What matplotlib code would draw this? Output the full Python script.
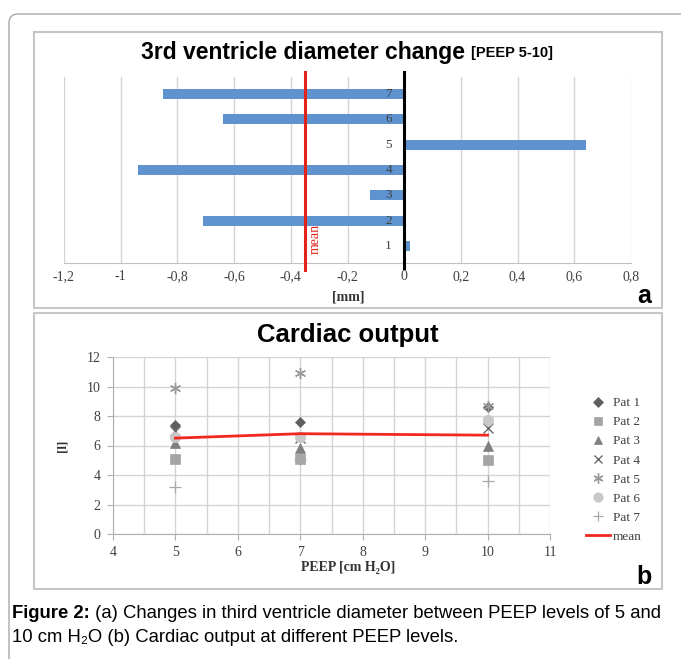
import matplotlib
matplotlib.use('Agg')
import matplotlib.pyplot as plt
import matplotlib.patches as patches
from matplotlib.ticker import FuncFormatter, MultipleLocator

# ============================================================
# Data
# ============================================================
patients = [1, 2, 3, 4, 5, 6, 7]
diam_change = [0.02, -0.71, -0.12, -0.94, 0.64, -0.64, -0.85]   # mm, PEEP 5 -> 10
diam_mean = -0.35

peep = [5, 7, 10]
co_pat = {
    'Pat 1': [7.4, 7.6, 8.6],
    'Pat 2': [5.1, 5.1, 5.0],
    'Pat 3': [6.2, 5.8, 6.0],
    'Pat 4': [7.0, 6.5, 7.2],
    'Pat 5': [9.9, 10.9, 8.7],
    'Pat 6': [6.6, 6.6, 7.7],
    'Pat 7': [3.2, 5.1, 3.6],
}
co_mean = [6.5, 6.8, 6.7]

W, H = 681, 659
fig = plt.figure(figsize=(W / 100, H / 100), dpi=100)

serif = ['Liberation Serif', 'DejaVu Serif']
sans = ['Liberation Sans', 'DejaVu Sans']
tick_col = '#404040'
grid_col = '#d4d4d4'


def px_axes(l, t, r, b):
    return fig.add_axes([l / W, 1 - b / H, (r - l) / W, (b - t) / H])


# background layer in pixel coordinates (frames, titles, caption)
bg = fig.add_axes([0, 0, 1, 1], zorder=-5)
bg.set_xlim(0, W)
bg.set_ylim(H, 0)
bg.axis('off')

outer = patches.FancyBboxPatch((9, 14), 700, 700, boxstyle="round,pad=0,rounding_size=9",
                               edgecolor='#a8a8a8', facecolor='none', linewidth=1.0)
bg.add_patch(outer)
for (x0, y0, x1, y1) in [(34, 32, 662, 308), (34, 313, 662, 589)]:
    bg.add_patch(patches.Rectangle((x0, y0), x1 - x0, y1 - y0, edgecolor='#c6c6c6',
                                   facecolor='white', linewidth=1.5))

# ============================================================
# Panel a: 3rd ventricle diameter change
# ============================================================
axa = px_axes(64, 77, 631, 263)
axa.barh(patients, diam_change, height=0.4, color='#5e93cf', zorder=2)
axa.set_xlim(-1.2, 0.8)
axa.set_ylim(0.33, 7.67)
axa.xaxis.set_major_locator(MultipleLocator(0.2))
axa.xaxis.set_major_formatter(FuncFormatter(lambda v, p: f"{round(v, 1):g}".replace('.', ',')))
axa.grid(axis='x', color=grid_col, linewidth=1.0, zorder=0)
axa.set_yticks([])
for s in ['top', 'left', 'right']:
    axa.spines[s].set_visible(False)
axa.spines['bottom'].set_color('#c0c0c0')
axa.tick_params(axis='x', length=0, pad=5, labelsize=10, labelcolor=tick_col)
for lab in axa.get_xticklabels():
    lab.set_family(serif)
axa.set_facecolor('none')

# zero line and mean line
axa.plot([0, 0], [0.12, 7.85], color='black', linewidth=2.2, zorder=4, clip_on=False)
axa.plot([diam_mean, diam_mean], [0.05, 7.85], color='#e32219', linewidth=2.2, zorder=3, clip_on=False)
axa.text(diam_mean + 0.037, 1.27, 'mean', rotation=90, color='#e32219', fontsize=10,
         family=serif, ha='center', va='center', zorder=5)
for p in patients:
    axa.text(-0.055, p, str(p), ha='center', va='center', fontsize=9.5, family=serif,
             color='#404040', zorder=5)

bg.text(303, 52, '3rd ventricle diameter change', ha='center', va='center',
        fontsize=16.5, fontweight='bold', family=sans)
bg.text(512, 53, '[PEEP 5-10]', ha='center', va='center',
        fontsize=10.5, fontweight='bold', family=sans)
bg.text(348, 297, '[mm]', ha='center', va='center', fontsize=10, fontweight='bold',
        family=serif, color='#333333')
bg.text(644, 296, 'a', ha='center', va='center', fontsize=18, fontweight='bold', family=sans)

# ============================================================
# Panel b: Cardiac output
# ============================================================
axb = px_axes(113, 357, 550, 534)
styles = {
    'Pat 1': dict(marker='D', color='#5f5f5f', ms=5.5),
    'Pat 2': dict(marker='s', color='#a5a5a5', ms=6.5),
    'Pat 3': dict(marker='^', color='#7f7f7f', ms=6.5),
    'Pat 4': dict(marker='x', color='#6a6a6a', ms=7, mew=1.0),
    'Pat 5': dict(marker=(6, 2, 0), color='#9a9a9a', ms=8, mew=1.0),
    'Pat 6': dict(marker='o', color='#c8c8c8', ms=7.5),
    'Pat 7': dict(marker='+', color='#a8a8a8', ms=8, mew=0.9),
}
handles = []
for name, vals in co_pat.items():
    st = styles[name]
    h, = axb.plot(peep, vals, linestyle='none', marker=st['marker'], color=st['color'],
                  markersize=st['ms'], markeredgewidth=st.get('mew', 0.5), zorder=3, label=name)
    handles.append(h)
hm, = axb.plot(peep, co_mean, color='#f0281e', linewidth=2.0, zorder=4, label='mean')
handles.append(hm)

axb.set_xlim(4, 11)
axb.set_ylim(0, 12)
axb.xaxis.set_major_locator(MultipleLocator(1))
axb.xaxis.set_minor_locator(MultipleLocator(0.5))
axb.yaxis.set_major_locator(MultipleLocator(2))
axb.grid(axis='x', which='both', color=grid_col, linewidth=1.0, zorder=0)
axb.grid(axis='y', which='major', color=grid_col, linewidth=1.0, zorder=0)
for s in ['top', 'right']:
    axb.spines[s].set_visible(False)
axb.spines['left'].set_color('#b0b0b0')
axb.spines['bottom'].set_color('#b0b0b0')
axb.tick_params(which='major', length=4, color='#b0b0b0', pad=5, labelsize=10, labelcolor=tick_col)
axb.tick_params(which='minor', length=0)
for lab in axb.get_xticklabels() + axb.get_yticklabels():
    lab.set_family(serif)
axb.set_facecolor('none')

leg = fig.legend(handles=handles, loc='upper left', bbox_to_anchor=(586 / W, 1 - 397 / H),
                 frameon=False, prop={'family': serif, 'size': 9.5}, labelspacing=0.52,
                 handlelength=1.8, handletextpad=0.25, borderpad=0, borderaxespad=0,
                 markerscale=0.9)
for t in leg.get_texts():
    t.set_color('#404040')

bg.text(348, 335, 'Cardiac output', ha='center', va='center', fontsize=18.5,
        fontweight='bold', family=sans)
bg.text(63, 446, '[l]', ha='center', va='center', rotation=90, fontsize=9.5,
        fontweight='bold', family=serif, color='#333333')
bg.text(348, 567, 'PEEP [cm H₂O]', ha='center', va='center', fontsize=10,
        fontweight='bold', family=serif, color='#333333')
bg.text(644, 577, 'b', ha='center', va='center', fontsize=18, fontweight='bold', family=sans)

# ============================================================
# Caption
# ============================================================
t1 = bg.text(12, 614, 'Figure 2:', ha='left', va='center', fontsize=13.3,
             fontweight='bold', family=sans)
bg.annotate(' (a) Changes in third ventricle diameter between PEEP levels of 5 and',
            xy=(1, 0.5), xycoords=t1, ha='left', va='center', fontsize=13.3, family=sans)
bg.text(12, 638, '10 cm H₂O (b) Cardiac output at different PEEP levels.', ha='left',
        va='center', fontsize=13.3, family=sans)

fig.savefig('out.png', dpi=100)
